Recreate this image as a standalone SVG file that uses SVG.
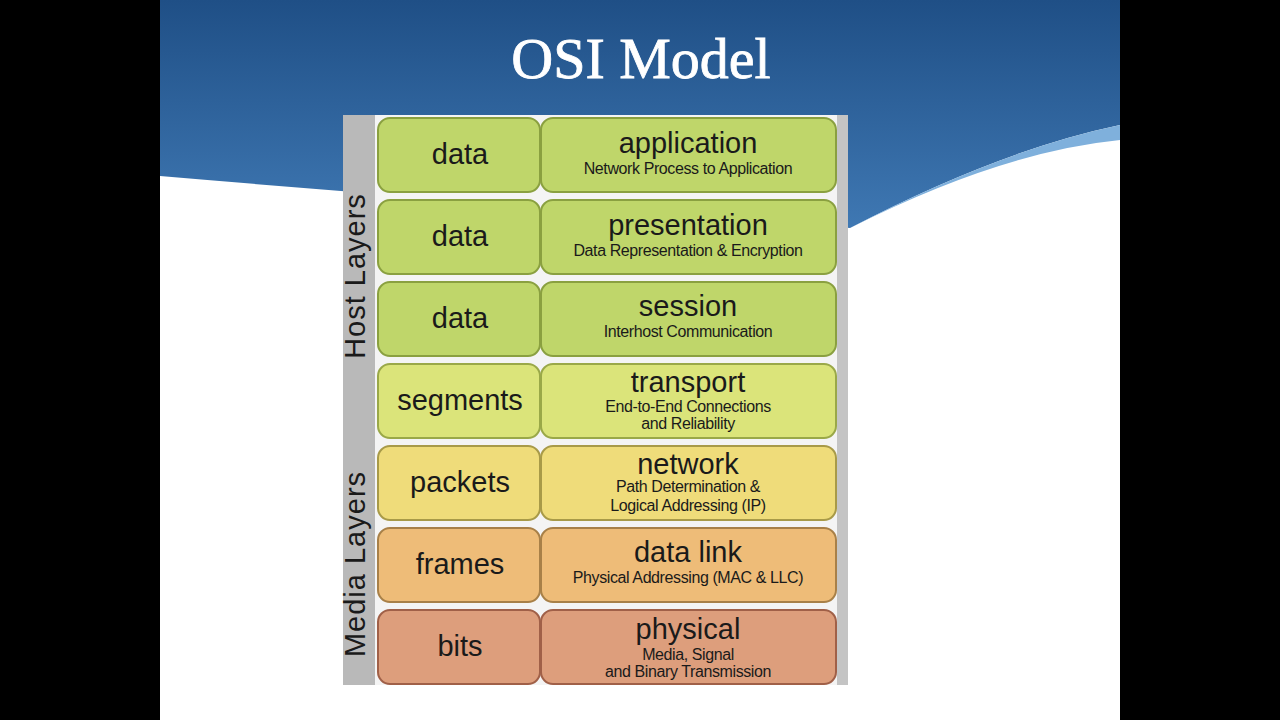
<svg xmlns="http://www.w3.org/2000/svg" width="1280" height="720" viewBox="0 0 1280 720">
<defs>
<linearGradient id="blue" x1="0" y1="0" x2="0" y2="1"><stop offset="0" stop-color="#1f4f86"/><stop offset="1" stop-color="#3f78b3"/></linearGradient>
<style>
.c{stroke-width:2}
.big{font-family:"Liberation Sans",Arial,sans-serif;font-size:29px;fill:#1a1a1a;text-anchor:middle}
.sm{font-family:"Liberation Sans",Arial,sans-serif;font-size:16px;fill:#1a1a1a;text-anchor:middle;letter-spacing:-0.4px}
.side{font-family:"Liberation Sans",Arial,sans-serif;font-size:29px;fill:#1a1a1a;text-anchor:middle;letter-spacing:1px}
</style>
</defs>
<rect width="1280" height="720" fill="#000"/>
<rect x="160" y="0" width="960" height="720" fill="#fff"/>
<path d="M160 0H1120V125Q1000 150 850 228Q500 205 160 176Z" fill="url(#blue)"/>
<path d="M850 228Q1000 152 1120 140V125Q1000 150 850 228Z" fill="#7fb0dc"/>
<text x="641" y="78" font-family="Liberation Serif,serif" font-size="58" fill="#fff" stroke="#fff" stroke-width="0.8" text-anchor="middle">OSI Model</text>
<g id="frame">
<rect x="343" y="115" width="505" height="570" fill="#f4f4f4"/>
<rect x="343" y="115" width="32" height="570" fill="#b9b9b9"/>
<rect x="837" y="115" width="11" height="570" fill="#c4c4c4"/>
<text class="side" transform="translate(365 276) rotate(-90)">Host Layers</text>
<text class="side" transform="translate(365 564) rotate(-90)">Media Layers</text>
</g>
<g id="l7"><rect x="378" y="118" width="162" height="74" rx="12" fill="#bfd66a" stroke="#8aa040" class="c"/><rect x="541" y="118" width="295" height="74" rx="12" fill="#bfd66a" stroke="#8aa040" class="c"/>
<text class="big" x="460" y="164">data</text><text class="big" x="688" y="153">application</text><text class="sm" x="688" y="174">Network Process to Application</text></g>
<g id="l6"><rect x="378" y="200" width="162" height="74" rx="12" fill="#bfd66a" stroke="#8aa040" class="c"/><rect x="541" y="200" width="295" height="74" rx="12" fill="#bfd66a" stroke="#8aa040" class="c"/>
<text class="big" x="460" y="246">data</text><text class="big" x="688" y="235">presentation</text><text class="sm" x="688" y="256">Data Representation &amp; Encryption</text></g>
<g id="l5"><rect x="378" y="282" width="162" height="74" rx="12" fill="#bfd66a" stroke="#8aa040" class="c"/><rect x="541" y="282" width="295" height="74" rx="12" fill="#bfd66a" stroke="#8aa040" class="c"/>
<text class="big" x="460" y="328">data</text><text class="big" x="688" y="316">session</text><text class="sm" x="688" y="337">Interhost Communication</text></g>
<g id="l4"><rect x="378" y="364" width="162" height="74" rx="12" fill="#dbe47a" stroke="#9aa848" class="c"/><rect x="541" y="364" width="295" height="74" rx="12" fill="#dbe47a" stroke="#9aa848" class="c"/>
<text class="big" x="460" y="410">segments</text><text class="big" x="688" y="392">transport</text><text class="sm" x="688" y="412">End-to-End Connections</text><text class="sm" x="688" y="429">and Reliability</text></g>
<g id="l3"><rect x="378" y="446" width="162" height="74" rx="12" fill="#efdc7a" stroke="#a89a48" class="c"/><rect x="541" y="446" width="295" height="74" rx="12" fill="#efdc7a" stroke="#a89a48" class="c"/>
<text class="big" x="460" y="492">packets</text><text class="big" x="688" y="474">network</text><text class="sm" x="688" y="492">Path Determination &amp;</text><text class="sm" x="688" y="511">Logical Addressing (IP)</text></g>
<g id="l2"><rect x="378" y="528" width="162" height="74" rx="12" fill="#eebc78" stroke="#a88048" class="c"/><rect x="541" y="528" width="295" height="74" rx="12" fill="#eebc78" stroke="#a88048" class="c"/>
<text class="big" x="460" y="574">frames</text><text class="big" x="688" y="562">data link</text><text class="sm" x="688" y="583">Physical Addressing (MAC &amp; LLC)</text></g>
<g id="l1"><rect x="378" y="610" width="162" height="74" rx="12" fill="#dd9e7c" stroke="#a06048" class="c"/><rect x="541" y="610" width="295" height="74" rx="12" fill="#dd9e7c" stroke="#a06048" class="c"/>
<text class="big" x="460" y="656">bits</text><text class="big" x="688" y="639">physical</text><text class="sm" x="688" y="660">Media, Signal</text><text class="sm" x="688" y="677">and Binary Transmission</text></g>
<g id="connectors"/>
</svg>
